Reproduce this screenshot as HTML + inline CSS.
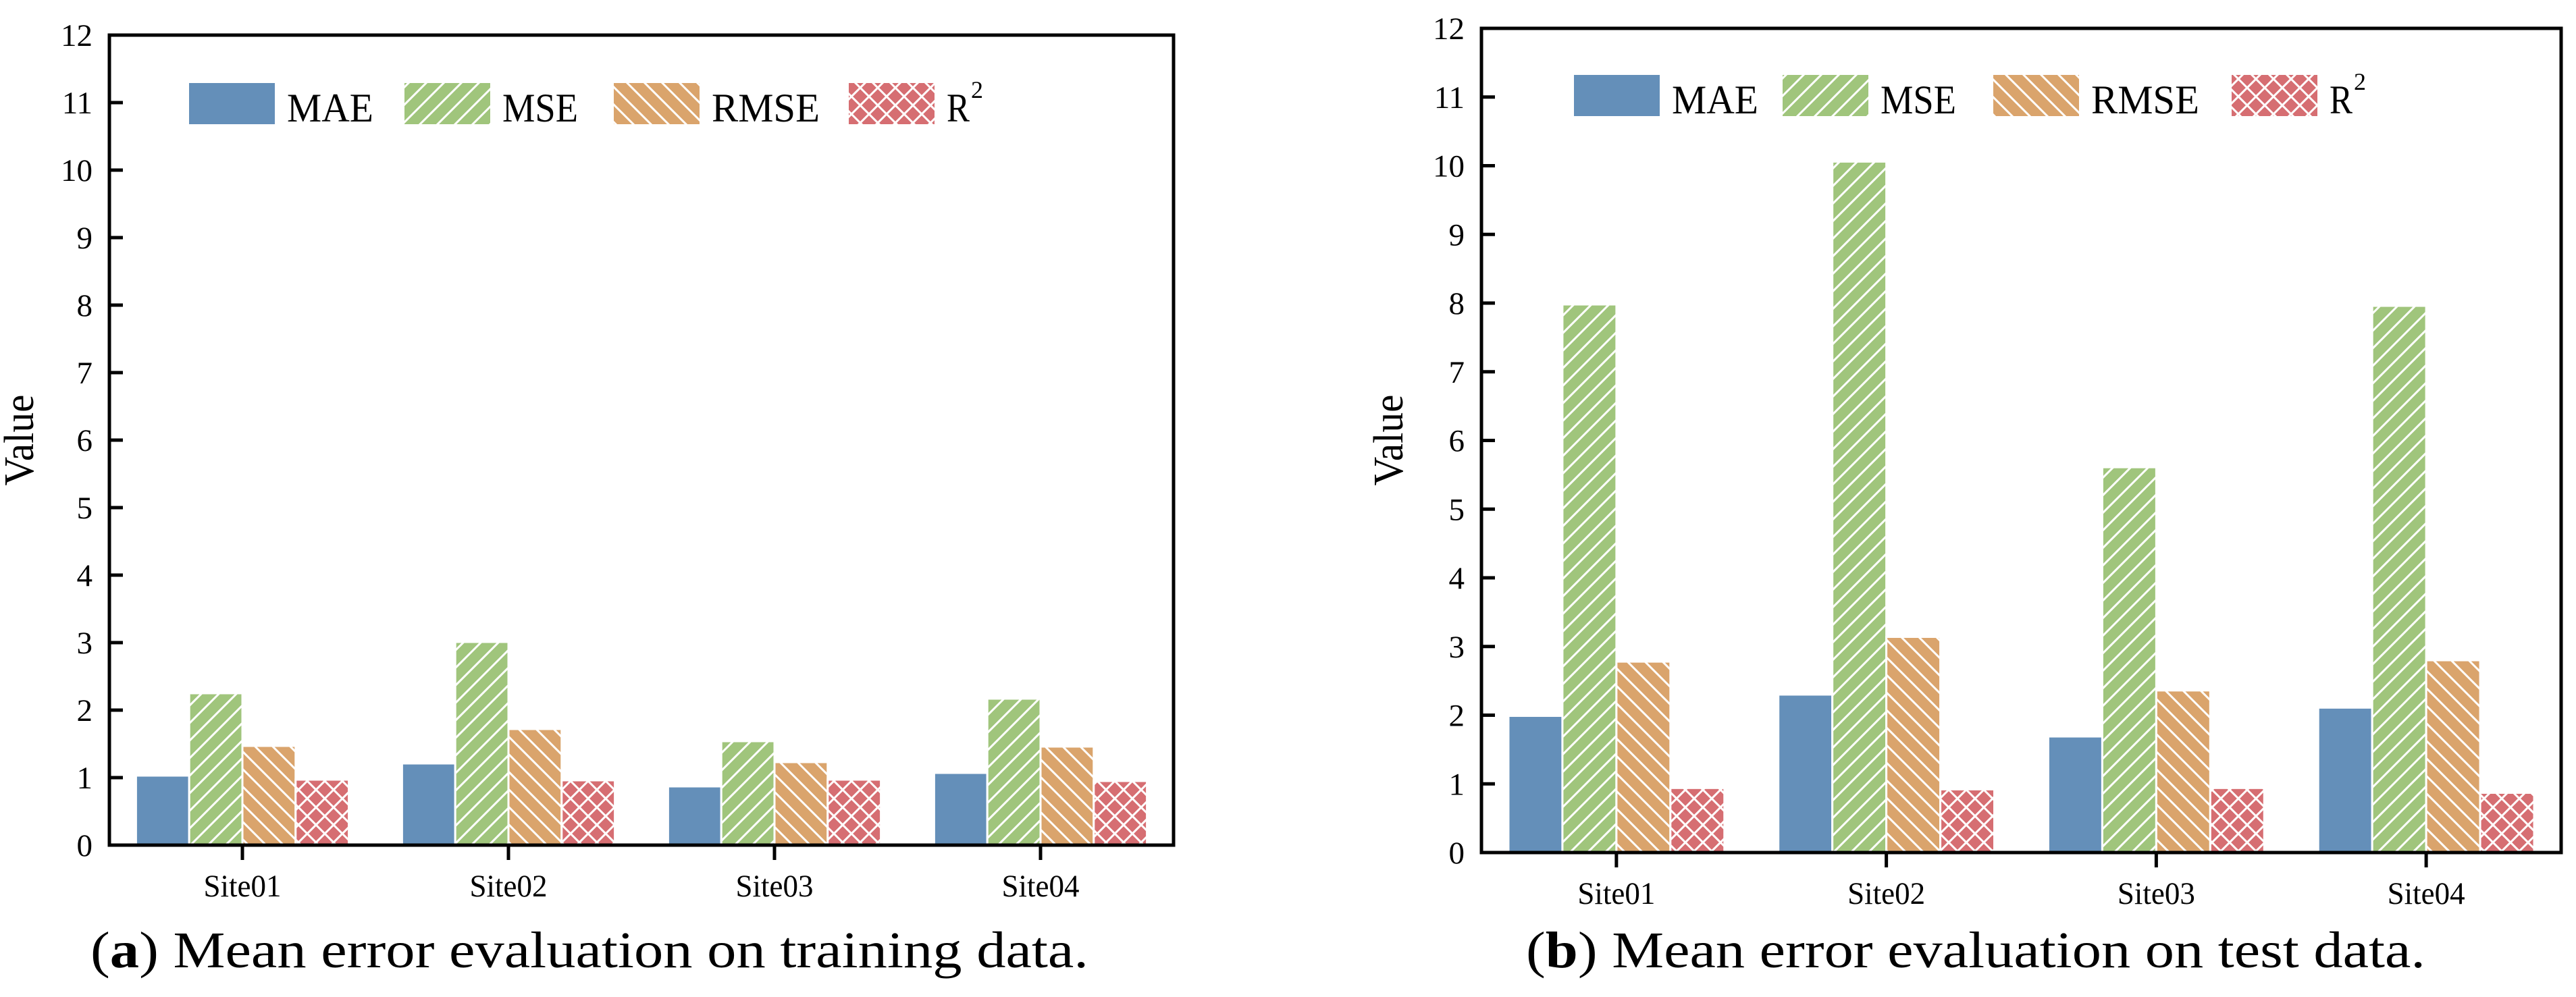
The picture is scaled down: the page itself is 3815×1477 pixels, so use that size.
<!DOCTYPE html>
<html><head><meta charset="utf-8"><style>
html,body{margin:0;padding:0;background:#fff;}
svg{display:block;font-family:"Liberation Serif","DejaVu Serif",serif;}
</style></head><body>
<svg id="fig" width="3815" height="1477" viewBox="0 0 3815 1477" xmlns="http://www.w3.org/2000/svg">
<defs>
<pattern id="hMSE" patternUnits="userSpaceOnUse" width="26" height="26"><rect width="26" height="26" fill="#a0c57c"/><path d="M-2,28 L28,-2 M-15,15 L15,-15 M11,41 L41,11" stroke="#fff" stroke-width="3"/></pattern>
<pattern id="hRMSE" patternUnits="userSpaceOnUse" width="26" height="26"><rect width="26" height="26" fill="#daa46c"/><path d="M-2,-2 L28,28 M-15,11 L15,41 M11,-15 L41,15" stroke="#fff" stroke-width="3"/></pattern>
<pattern id="hR2" patternUnits="userSpaceOnUse" width="26" height="26"><rect width="26" height="26" fill="#d66e72"/><path d="M-2,28 L28,-2 M-15,15 L15,-15 M11,41 L41,11 M-2,-2 L28,28 M-15,11 L15,41 M11,-15 L41,15" stroke="#fff" stroke-width="3"/></pattern>
</defs>
</svg>
<script>
const categories = ["Site01","Site02","Site03","Site04"];
const seriesNames = ["MAE","MSE","RMSE","R2"];
const trainMAE = [1.03, 1.21, 0.87, 1.07];
const trainMSE = [2.25, 3.01, 1.54, 2.17];
const trainRMSE = [1.47, 1.72, 1.23, 1.46];
const trainR2 = [0.97, 0.96, 0.97, 0.95];
const testMAE = [1.99, 2.30, 1.69, 2.11];
const testMSE = [7.98, 10.06, 5.61, 7.96];
const testRMSE = [2.78, 3.14, 2.36, 2.80];
const testR2 = [0.94, 0.92, 0.94, 0.87];
const yTicks = [0,1,2,3,4,5,6,7,8,9,10,11,12];

const NS = "http://www.w3.org/2000/svg";
const svg = document.getElementById('fig');
const fills = ["#648fb9","url(#hMSE)","url(#hRMSE)","url(#hR2)"];
function mk(tag, attrs, parent){
  const e = document.createElementNS(NS, tag);
  for (const k in attrs) e.setAttribute(k, attrs[k]);
  (parent||svg).appendChild(e);
  return e;
}
function drawChart(cfg){
  const g = mk('g', {});
  
  
  const L=cfg.left, R=cfg.right, T=cfg.top, B=cfg.bottom;
  const cat = (R-L)/categories.length;
  const xs = i => L + (i+0.5)*cat;
  const ys = v => B - (v/12)*(B-T);
  const data = [cfg.mae, cfg.mse, cfg.rmse, cfg.r2];
  const bw = 0.2*cat;
  for (let s=0;s<4;s++){
    for (let i=0;i<categories.length;i++){
      const x = xs(i) + (s-2)*bw;
      const y = ys(data[s][i]);
      const r = mk('rect', {x:x, y:y, width:bw, height:B-y, fill:fills[s], stroke:'#fff', 'stroke-width':3}, g);
      
      
    }
  }
  // axes box
  const box = mk('rect', {x:L, y:T, width:R-L, height:B-T, fill:'none', stroke:'#000', 'stroke-width':5}, g);
  
  
  for (const t of yTicks){
    const y = ys(t);
    if (t>0 && t<12){
      const tk = mk('line', {x1:L, x2:L+20, y1:y, y2:y, stroke:'#000', 'stroke-width':5}, g);
      
      
    }
    const tl = mk('text', {x:L-25, y:y+16, 'font-size':47, 'text-anchor':'end'}, g);
    tl.textContent = t;
    
    
  }
  for (let i=0;i<categories.length;i++){
    const x = xs(i);
    const tk = mk('line', {x1:x, x2:x, y1:B, y2:B+22, stroke:'#000', 'stroke-width':5}, g);
    
    
    const tl = mk('text', {x:x, y:B+76, 'font-size':47, 'text-anchor':'middle', textLength:115, lengthAdjust:'spacingAndGlyphs'}, g);
    tl.textContent = categories[i];
    
    
  }
  const yl = mk('text', {x:0, y:0, 'font-size':62, 'text-anchor':'middle', transform:'translate('+(cfg.ylabX)+','+652+') rotate(-90)', textLength:135, lengthAdjust:'spacingAndGlyphs'}, g);
  yl.textContent = 'Value';
  
  
  // legend
  const labels = ["MAE","MSE","RMSE","R"];
  const lw = [128,112,160,34];
  for (let s=0;s<4;s++){
    const lg = mk('g', {}, g);
    
    
    const px = cfg.legX[s];
    mk('rect', {x:px, y:cfg.legY, width:127, height:61, fill:fills[s]}, lg);
    const t = mk('text', {x:px+145, y:cfg.legY+57, 'font-size':60, textLength:lw[s], lengthAdjust:'spacingAndGlyphs'}, lg);
    t.textContent = labels[s];
    if (s===3){
      const sup = mk('text', {x:px+181, y:cfg.legY+22, 'font-size':36}, lg);
      sup.textContent = '2';
    }
  }
  // caption
  const cap = mk('text', {x:cfg.capX, y:1433, 'font-size':76, textLength:cfg.capW, lengthAdjust:'spacingAndGlyphs'}, g);
  
  
  const o = mk('tspan', {}, cap); o.textContent='(';
  const b = mk('tspan', {'font-weight':'bold'}, cap); b.textContent=cfg.letter;
  const rest = mk('tspan', {}, cap); rest.textContent=') ' + cfg.caption;
}
drawChart({id:'train', left:162, right:1738, top:52, bottom:1252, ylabX:49,
  mae:trainMAE, mse:trainMSE, rmse:trainRMSE, r2:trainR2,
  legX:[280,599,909,1257], legY:123, capX:134, capW:1478, letter:'a',
  caption:'Mean error evaluation on training data.'});
drawChart({id:'test', left:2194, right:3793, top:42, bottom:1263, ylabX:2077,
  mae:testMAE, mse:testMSE, rmse:testRMSE, r2:testR2,
  legX:[2331,2640,2952,3305], legY:111, capX:2260, capW:1332, letter:'b',
  caption:'Mean error evaluation on test data.'});
</script>
</body></html>
